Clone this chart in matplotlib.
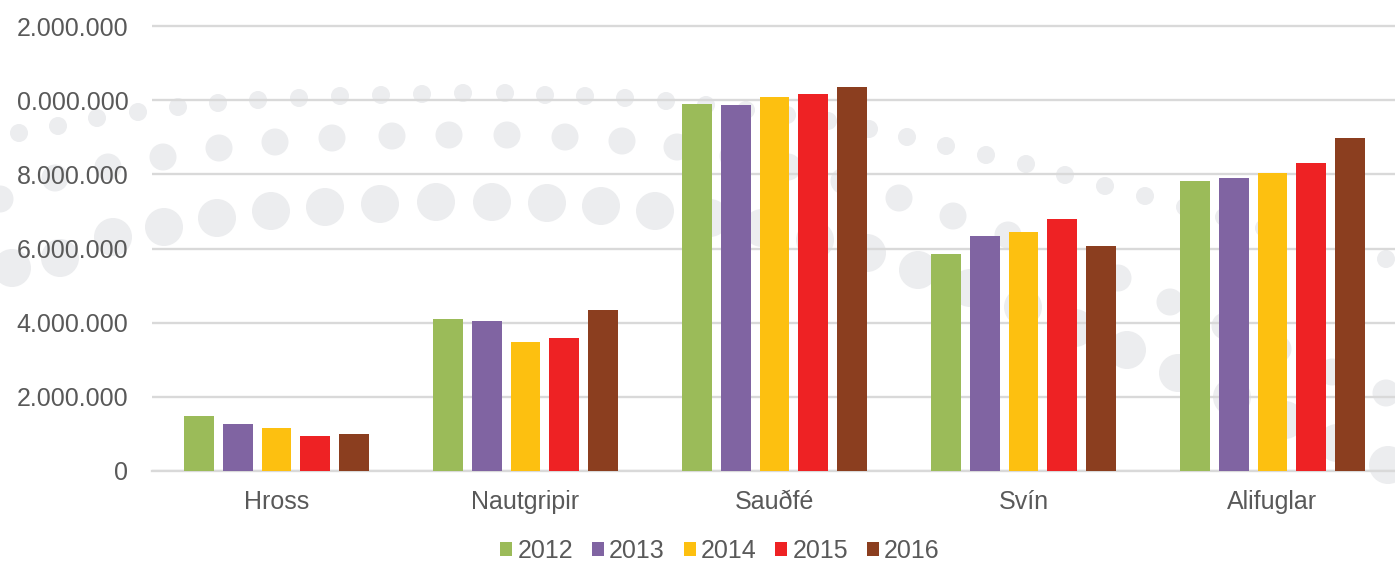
import matplotlib
matplotlib.use("Agg")
import matplotlib.pyplot as plt
from matplotlib.patches import Circle, Patch
import numpy as np

# ---- data ----
categories = ["Hross", "Nautgripir", "Sauðfé", "Svín", "Alifuglar"]
years = ["2012", "2013", "2014", "2015", "2016"]
v2012 = [1_480_000, 4_100_000, 9_900_000, 5_840_000, 7_820_000]
v2013 = [1_280_000, 4_050_000, 9_870_000, 6_340_000, 7_890_000]
v2014 = [1_170_000, 3_480_000, 10_090_000, 6_450_000, 8_040_000]
v2015 = [940_000, 3_590_000, 10_170_000, 6_800_000, 8_310_000]
v2016 = [990_000, 4_340_000, 10_360_000, 6_070_000, 8_980_000]
series = [v2012, v2013, v2014, v2015, v2016]
yticks = [0, 2_000_000, 4_000_000, 6_000_000, 8_000_000, 10_000_000, 12_000_000]
# tick labels as visible in the (left-cropped) reference
ytick_labels = ["0", "2.000.000", "4.000.000", "6.000.000", "8.000.000", "0.000.000", "2.000.000"]

colors = ["#9BBB59", "#8064A2", "#FDC010", "#EE2224", "#8B3E1F"]
text_color = "#595959"
grid_color = "#D9D9D9"
circle_color = "#ECEDEF"
FS = 18

W, H = 1395, 563
fig = plt.figure(figsize=(W / 100, H / 100), dpi=100)
fig.patch.set_facecolor("white")

# ---- decorative background dots (pixel coords) ----
rowA = [(19,133),(58,126),(97,118),(138,112),(178,107),(218,103),(258,100),(299,98),(340,96),
        (381,95),(422,94),(463,93),(505,93),(545,95),(585,96),(625,98),(666,101),(706,105),
        (746,110),(787,115),(828,121),(869,129),(907,137),(946,146),(986,155),(1026,164),
        (1065,175),(1105,186),(1145,196),(1185,207),(1224,217),(1264,228),(1305,238),
        (1345,248),(1386,259)]
rowB = [(0,199),(55,178),(108,167),(163,157),(219,148),(275,142),(332,138),(392,136),(449,135),
        (507,135),(565,137),(622,141),(677,147),(733,156),(788,167),(844,181),(899,198),
        (953,216),(1008,235),(1063,256),(1118,278),(1170,302),(1225,326),(1278,349),
        (1332,372),(1386,393)]
rowC = [(12,268),(60,258),(113,237),(164,227),(217,218),(271,211),(325,207),(380,204),(436,202),
        (492,202),(547,203),(601,206),(655,211),(710,218),(762,228),(815,240),(867,253),
        (918,270),(970,288),(1023,307),(1075,328),(1127,350),(1178,373),(1232,397),
        (1285,420),(1337,443),(1388,465)]
bg = fig.add_axes([0, 0, 1, 1], zorder=0)
bg.set_xlim(0, W)
bg.set_ylim(H, 0)
bg.axis("off")
for row, r in ((rowA, 9), (rowB, 13.5), (rowC, 19)):
    for (cx, cy) in row:
        bg.add_patch(Circle((cx, cy), r, facecolor=circle_color, edgecolor="none"))

# ---- main axes ----
x0_px, x1_px = 152, 1397
y0_px, ytop_px = 471, 26
ymax = 12_200_000
px_per_unit = (y0_px - ytop_px) / 12_000_000
ax_h = ymax * px_per_unit
ax = fig.add_axes([x0_px / W, (H - y0_px) / H, (x1_px - x0_px) / W, ax_h / H], zorder=1)
ax.patch.set_visible(False)

x = np.arange(len(categories))
step = 0.155
width = 0.12
for i, (vals, c) in enumerate(zip(series, colors)):
    ax.bar(x + (i - 2) * step, vals, width=width, color=c, edgecolor="none", zorder=3,
           label=years[i])

ax.set_xlim(-0.5, len(categories) - 0.5)
ax.set_ylim(0, ymax)
ax.set_yticks(yticks)
ax.set_yticklabels(ytick_labels)
ax.set_xticks(x)
ax.set_xticklabels(categories)
ax.grid(axis="y", color=grid_color, linewidth=1.7, zorder=2)
ax.set_axisbelow(True)
for s in ["top", "right", "left"]:
    ax.spines[s].set_visible(False)
ax.spines["bottom"].set_color(grid_color)
ax.spines["bottom"].set_linewidth(1.7)
ax.spines["bottom"].set_zorder(2)
ax.tick_params(axis="both", length=0, labelsize=FS, labelcolor=text_color,
               labelfontfamily="Liberation Sans")
ax.tick_params(axis="y", pad=17)
ax.tick_params(axis="x", pad=14)

handles = [Patch(facecolor=c, edgecolor="none") for c in colors]
fig.legend(handles, years, loc="center", bbox_to_anchor=(720 / W, 1 - 551 / H), ncol=5,
           frameon=False, prop={"family": "Liberation Sans", "size": FS},
           labelcolor=text_color, handlelength=0.48, handleheight=0.48,
           handletextpad=0.2, columnspacing=0.76, borderpad=0)

fig.savefig("out.png", dpi=100, facecolor="white")
